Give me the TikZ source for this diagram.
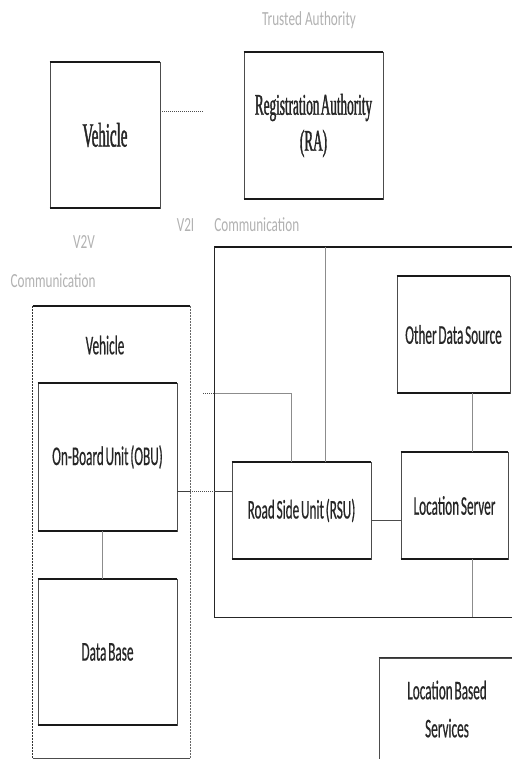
\documentclass[tikz,border=0pt]{standalone}
\usepackage{fontspec}
\newfontfamily\serifc[FakeStretch=0.44,FakeBold=1.2,WordSpace=0.4]{Liberation Serif}
\newfontfamily\sansc[FakeStretch=0.49,FakeBold=0.4,WordSpace=0.6]{Carlito}
\newfontfamily\faintf[FakeStretch=0.66]{Carlito}
\begin{document}
\begin{tikzpicture}[x=1pt,y=-1pt,
  box/.style={draw=black!70, line width=0.7pt, inner sep=0pt, align=center},
  edgeline/.style={draw=black!90, line width=2pt},
  conn/.style={draw=black!45, line width=0.8pt},
  dconn/.style={draw=black!70, line width=0.6pt, dash pattern=on 1pt off 1pt},
  faintlbl/.style={text=black!30, font=\faintf\fontsize{20}{24}\selectfont},
  serifl/.style={text=black!85, font=\serifc\fontsize{30}{36}\selectfont},
  serifbig/.style={text=black!85, font=\serifc\fontsize{34}{40}\selectfont},
  sansl/.style={text=black!85, font=\sansc\fontsize{27}{32}\selectfont},
  sanslbs/.style={text=black!85, font=\sansc\fontsize{27}{38}\selectfont}]
\useasboundingbox[fill=white] (0,0) rectangle (511,759);

% top part
\node[box, serifbig, minimum width=110pt, minimum height=146pt] (veh1) at (105,135) {Vehicle};
\node[box, serifl, minimum width=139pt, minimum height=147pt] (ra) at (313.5,125.5) {Registration Authority\\(RA)};
\node[faintlbl] (trusted) at (309,20) {Trusted Authority};
\node[faintlbl] (v2i) at (238,225) {V2I\quad Communication};
\node[faintlbl] (v2v) at (84,242) {V2V};
\node[faintlbl] (comm) at (53,281) {Communication};

% outer vehicle container
\node[minimum width=157pt, minimum height=452pt, inner sep=0pt] (vehout) at (111.5,532) {};
\node[sansl] (vehlbl) at (105,345) {Vehicle};
\node[box, sansl, minimum width=139pt, minimum height=148pt] (obu) at (107.5,457) {On-Board Unit (OBU)};
\node[box, sansl, minimum width=139pt, minimum height=146pt] (db) at (107.5,652) {Data Base};

% infrastructure container
\node[minimum width=310pt, minimum height=370pt, inner sep=0pt] (bigbox) at (370,432) {};
\node[box, sansl, minimum width=113pt, minimum height=117pt] (ods) at (453.5,334.5) {Other Data Source};
\node[box, sansl, minimum width=107pt, minimum height=107pt] (ls) at (454.5,505.5) {Location Server};
\node[box, sansl, minimum width=139pt, minimum height=97pt] (rsu) at (301.5,510.5) {Road Side Unit (RSU)};
\node[box, sanslbs, minimum width=136pt, minimum height=102pt] (lbs) at (447,709) {Location Based\\Services};

% container borders
\draw[black!80, line width=0.8pt, dash pattern=on 1pt off 0.5pt] (vehout.north west) -- (vehout.south west);
\draw[black!60, line width=0.6pt, dash pattern=on 1pt off 0.5pt] (vehout.north east) -- (vehout.south east);
\draw[black!70, line width=0.8pt] (vehout.south west) -- (vehout.south east);
\draw[edgeline] (vehout.north west) -- (vehout.north east);
\draw[black!85, line width=1.3pt] (bigbox.north east) -- (bigbox.north west) -- (bigbox.south west) -- (bigbox.south east);
\draw[edgeline] (bigbox.north west) -- (bigbox.north east);

% thick top and bottom edges of boxes
\foreach \n in {veh1,ra,obu,db,ods,ls,rsu}{
  \draw[edgeline] (\n.north west) -- (\n.north east);
  \draw[edgeline] (\n.south west) -- (\n.south east);
}
\draw[black!80, line width=1.2pt] (lbs.north west) -- (lbs.north east);

% connectors
\coordinate (rastub) at (203,111);
\draw[dconn] (veh1.east |- rastub) -- (rastub);

\coordinate (c1) at (190,491);
\coordinate (c2) at (215,491);
\draw[black!75, line width=0.8pt] (obu.east |- c1) -- (c1);
\draw[dconn] (c1) -- (c2);
\draw[black!75, line width=0.8pt] (c2) -- (rsu.west |- c1);

\coordinate (c3) at (203,393);
\coordinate (c4) at (215,393);
\coordinate (c5) at (291,393);
\draw[dconn] (c3) -- (c4);
\draw[conn] (c4) -- (c5) -- (c5 |- rsu.north);

\coordinate (c6) at (325,247);
\draw[conn] (c6) -- (c6 |- rsu.north);

\coordinate (lx) at (472,400);
\draw[conn] (ods.south -| lx) -- (ls.north -| lx);
\coordinate (c8) at (472,617);
\draw[conn] (ls.south -| lx) -- (c8);

\coordinate (c9) at (380,520);
\draw[black!70, line width=0.8pt] (rsu.east |- c9) -- (ls.west |- c9);

\coordinate (c10) at (102,550);
\draw[conn] (obu.south -| c10) -- (db.north -| c10);
\end{tikzpicture}
\end{document}
